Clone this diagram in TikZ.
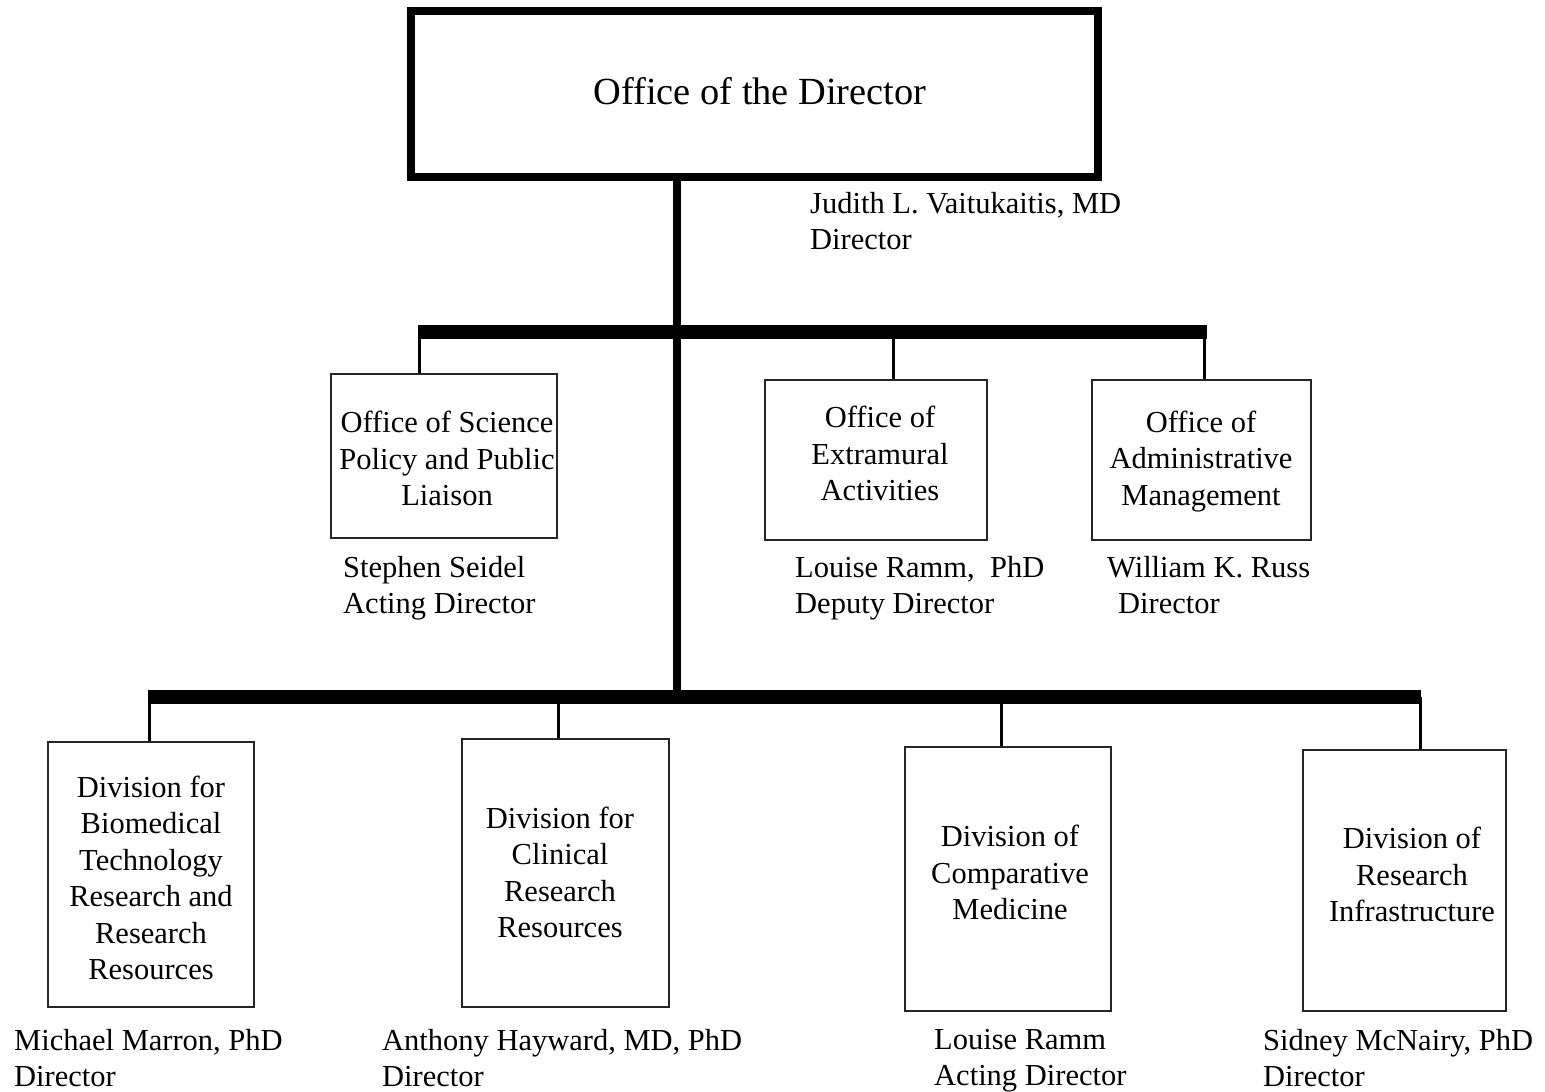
\documentclass[tikz,border=0pt]{standalone}
\usepackage{fontspec}
\setmainfont{Liberation Serif}
\begin{document}
\begin{tikzpicture}[x=1pt,y=-1pt,
  box/.style={draw=black!85, line width=1.3pt, inner sep=0pt},
  boxtext/.style={inner sep=0pt, align=center,
    font=\fontsize{30.5}{36.5}\selectfont},
  lbl/.style={anchor=north west, inner sep=0pt, align=left,
    font=\fontsize{30.5}{36.5}\selectfont},
  hbar/.style={line width=14pt},
  trunk/.style={line width=8pt},
  drop/.style={line width=3pt}]
\useasboundingbox[fill=white] (0,0) rectangle (1545,1092);

% top box
\node[draw, line width=8pt, minimum width=687pt, minimum height=166pt, inner sep=0pt] (top) at (754.5,94) {};
\node[inner sep=0pt, font=\fontsize{38.4}{46}\selectfont] (topt) at (760,91) {Office of the Director};

% second row
\node[box, minimum width=226pt, minimum height=164pt] (sp) at (444,456) {};
\node[box, minimum width=222pt, minimum height=160pt] (ea) at (876,460) {};
\node[box, minimum width=219pt, minimum height=160pt] (am) at (1201.5,460) {};
\node[boxtext] (spt) at (447,458.5) {Office of Science\\Policy and Public\\Liaison};
\node[boxtext] (eat) at (880,453.5) {Office of\\Extramural\\Activities};
\node[boxtext] (amt) at (1201,461.5) {Office of\\Administrative\\Management};

% third row
\node[box, minimum width=206pt, minimum height=265pt] (d1) at (151,874.5) {};
\node[box, minimum width=207pt, minimum height=268pt] (d2) at (565.5,873) {};
\node[box, minimum width=206pt, minimum height=264pt] (d3) at (1008,879) {};
\node[box, minimum width=203pt, minimum height=261pt] (d4) at (1404.5,880.5) {};
\node[boxtext] (d1t) at (151,878) {Division for\\Biomedical\\Technology\\Research and\\Research\\Resources};
\node[boxtext] (d2t) at (560,872.5) {Division for\\Clinical\\Research\\Resources};
\node[boxtext] (d3t) at (1010,872.5) {Division of\\Comparative\\Medicine};
\node[boxtext] (d4t) at (1412,874.5) {Division of\\Research\\Infrastructure};

% labels
\node[lbl] (lj) at (810,192) {Judith L. Vaitukaitis, MD\\Director};
\node[lbl] (ls) at (343,556) {Stephen Seidel\\Acting Director};
\node[lbl] (lr) at (795,556) {Louise Ramm,\ \ PhD\\Deputy Director};
\node[lbl] (lw) at (1107,556) {William K. Russ\\\hspace*{11pt}Director};
\node[lbl] (lm) at (14,1029) {Michael Marron, PhD\\Director};
\node[lbl] (lh) at (382,1029) {Anthony Hayward, MD, PhD\\Director};
\node[lbl] (lr2) at (934,1029) {Louise Ramm\\Acting Director};
\node[lbl] (ln) at (1263,1029) {Sidney McNairy, PhD\\Director};

% connector coordinates
\coordinate (u1) at (418,332);
\coordinate (u2) at (1207,332);
\coordinate (j1) at (677,332);
\coordinate (l1) at (148,697);
\coordinate (l2) at (1421,697);
\coordinate (j2) at (677,697);
\coordinate (k1) at (419,332);
\coordinate (k2) at (893,332);
\coordinate (k3) at (1204,332);
\coordinate (m1) at (149,697);
\coordinate (m2) at (558,697);
\coordinate (m3) at (1001,697);
\coordinate (m4) at (1420,697);

\draw[trunk] (top.south -| j1) -- (j2);
\draw[hbar] (u1) -- (u2);
\draw[hbar] (l1) -- (l2);

\draw[drop] (k1) -- (k1 |- sp.north);
\draw[drop] (k2) -- (k2 |- ea.north);
\draw[drop] (k3) -- (k3 |- am.north);
\draw[drop] (m1) -- (m1 |- d1.north);
\draw[drop] (m2) -- (m2 |- d2.north);
\draw[drop] (m3) -- (m3 |- d3.north);
\draw[drop] (m4) -- (m4 |- d4.north);
\end{tikzpicture}
\end{document}
